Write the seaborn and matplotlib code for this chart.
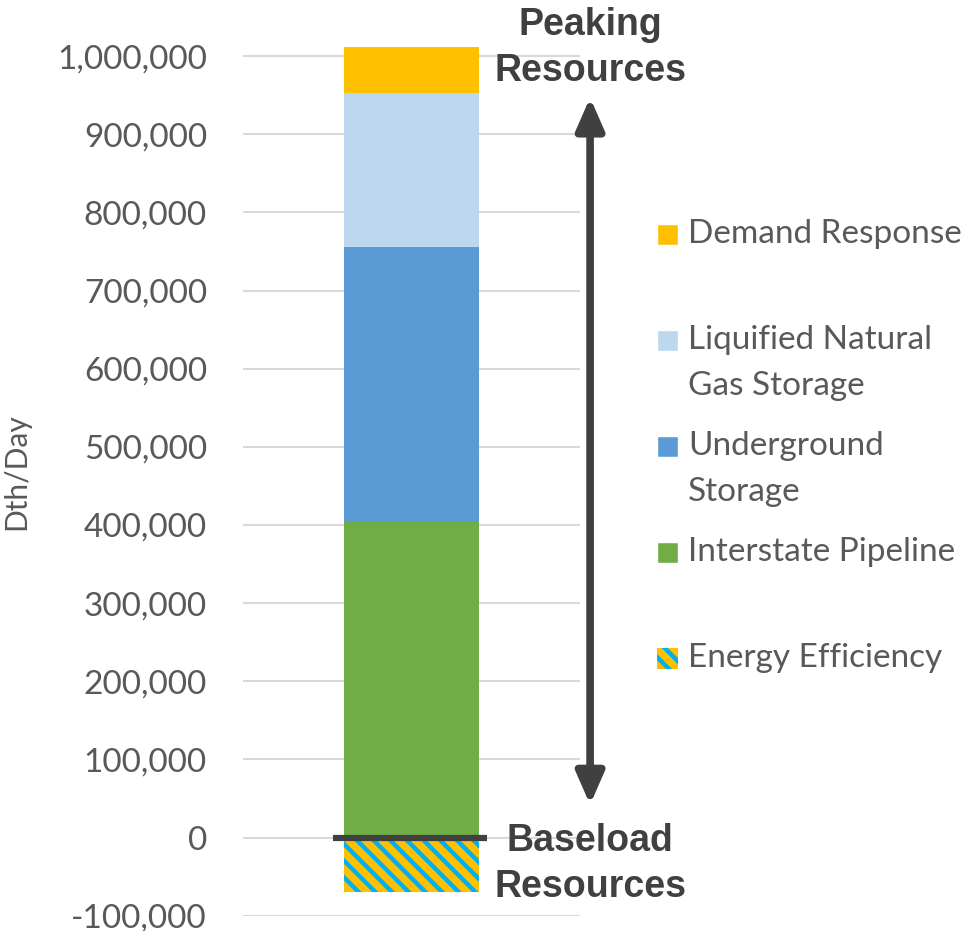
import numpy as np
import pandas as pd
import seaborn as sns
import matplotlib
matplotlib.use("Agg")
import matplotlib.pyplot as plt
import matplotlib.patches as mpatches
from matplotlib.legend_handler import HandlerPatch
from matplotlib.ticker import FuncFormatter

# stacked resources (Dth/Day), bottom to top
layers = ["Interstate Pipeline", "Underground\nStorage", "Liquified Natural\nGas Storage", "Demand Response"]
layer_values = [404000, 351600, 197400, 59000]
layer_colors = ["#70AD47", "#5B9BD5", "#BDD7EE", "#FFC000"]
ee_label = "Energy Efficiency"
ee_value = -69400
yticks = list(range(-100000, 1000001, 100000))

sns.set_theme(style="white")
plt.rcParams['font.family'] = ['Lato', 'DejaVu Sans']
plt.rcParams['hatch.linewidth'] = 3.2

fig = plt.figure(figsize=(9.72, 9.31), dpi=100)
ax = fig.add_axes([0.25, 0.0165, 0.3467, 0.9400])

grey = "#595959"
dark = "#404040"
ee_hatch = "\\\\"

# stacked bar: draw cumulative tops, tallest first
tops = np.cumsum(layer_values)
df = pd.DataFrame({"x": ["all"] * len(layers), "top": tops, "layer": layers})
for i in range(len(layers) - 1, -1, -1):
    sns.barplot(data=df.iloc[[i]], x="x", y="top", color=layer_colors[i],
                saturation=1, width=0.4, ax=ax, linewidth=0, zorder=2)

ee_df = pd.DataFrame({"x": ["all"], "v": [ee_value]})
sns.barplot(data=ee_df, x="x", y="v", color="#FFC000", saturation=1, width=0.4, ax=ax,
            linewidth=0, edgecolor="#00B0F0", hatch=ee_hatch, zorder=2)

ax.set_xlim(-0.5, 0.5)
ax.set_ylim(-100000, 1020000)
ax.set_yticks(yticks)
ax.yaxis.set_major_formatter(FuncFormatter(lambda v, p: f"{int(v):,}"))
ax.tick_params(axis="y", labelsize=24, colors=grey, pad=26, length=0)
ax.set_xticks([])
ax.set_xlabel("")
ax.set_ylabel("Dth/Day", fontsize=21.5, color=grey)
ax.yaxis.set_label_coords(-0.632, 0.507)
ax.grid(axis="y", color="#D9D9D9", linewidth=1.5)
ax.set_axisbelow(True)
for s in ax.spines.values():
    s.set_visible(False)

# baseline at zero
ax.hlines(0, -0.233, 0.224, color=dark, linewidth=4.5, zorder=4, clip_on=False)

# peaking arrow
ax.annotate("", xy=(0.53, 947000), xytext=(0.53, 42000),
            arrowprops=dict(arrowstyle="<|-|>,head_length=1.6,head_width=0.7",
                            color=dark, lw=5.5, shrinkA=0, shrinkB=0),
            annotation_clip=False)
ax.text(0.53, 1010000, "Peaking\nResources", ha="center", va="center",
        fontsize=27, fontweight="bold", color=dark, family="Liberation Sans",
        linespacing=1.36, clip_on=False)
ax.text(0.53, -34000, "Baseload\nResources", ha="center", va="center",
        fontsize=27, fontweight="bold", color=dark, family="Liberation Sans",
        linespacing=1.36, clip_on=False)

# legend, square aligned with first text line
def top_square(legend, orig_handle, xdescent, ydescent, width, height, fontsize):
    s = 15.0
    return mpatches.Rectangle((-xdescent, -ydescent + height / 2 - s / 2 + 16.8), s, s)

handles = [mpatches.Patch(facecolor=layer_colors[3]),
           mpatches.Patch(facecolor=layer_colors[2]),
           mpatches.Patch(facecolor=layer_colors[1]),
           mpatches.Patch(facecolor=layer_colors[0]),
           mpatches.Patch(facecolor="#FFC000", edgecolor="#00B0F0", linewidth=0, hatch="\\\\")]
labels = ["Demand Response\n", layers[2], layers[1], "Interstate Pipeline\n", ee_label + "\n"]
leg = fig.legend(handles, labels, loc="upper left", bbox_to_anchor=(0.676, 0.7646),
                 frameon=False, fontsize=24, handlelength=0.63, handleheight=0.7,
                 handletextpad=0.3, labelspacing=0.90, borderpad=0, borderaxespad=0,
                 handler_map={mpatches.Patch: HandlerPatch(patch_func=top_square)})
for t in leg.get_texts():
    t.set_color(grey)
    t.set_linespacing(1.67)

fig.savefig("out.png", dpi=100)
